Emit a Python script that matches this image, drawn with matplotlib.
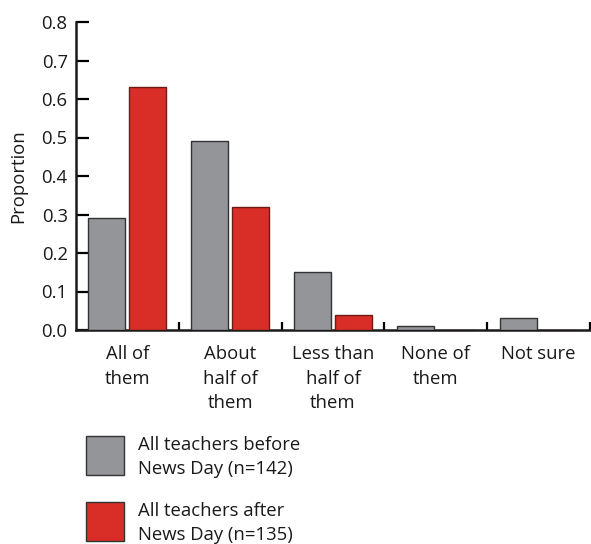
import matplotlib
matplotlib.use("Agg")
import matplotlib.pyplot as plt
from matplotlib.patches import Rectangle
import numpy as np

plt.rcParams['font.family'] = ['Open Sans', 'DejaVu Sans']

categories = ["All of\nthem", "About\nhalf of\nthem", "Less than\nhalf of\nthem", "None of\nthem", "Not sure"]
before = [0.29, 0.49, 0.15, 0.01, 0.03]
after = [0.63, 0.32, 0.04, 0.0, 0.0]
series_labels = ["All teachers before\nNews Day (n=142)", "All teachers after\nNews Day (n=135)"]
colors = ["#939598", "#d92e27"]
yticks = [0.0, 0.1, 0.2, 0.3, 0.4, 0.5, 0.6, 0.7, 0.8]

FS = 13.3
W, H = 591, 544
fig = plt.figure(figsize=(W / 100, H / 100), dpi=100)
ax = fig.add_axes([76 / W, 1 - 330 / H, (590 - 76) / W, (330 - 22) / H])

x = np.arange(len(categories))
bw = 0.36
ax.bar(x - 0.2, before, bw, color=colors[0], edgecolor="#333333", linewidth=1.0, zorder=3)
ax.bar(x + 0.195, after, bw, color=colors[1], edgecolor="#6a1c18", linewidth=1.0, zorder=3)

ax.set_xlim(-0.5, len(categories) - 0.5)
ax.set_ylim(0, 0.8)
ax.set_yticks(yticks)
ax.set_yticklabels([f"{v:.1f}" for v in yticks], fontsize=FS, color="#1a1a1a")
ax.tick_params(axis='y', direction='in', length=9, width=1.6, pad=6)
ax.set_xticks(x)
ax.set_xticklabels(categories, fontsize=FS, color="#1a1a1a", linespacing=1.45)
ax.tick_params(axis='x', which='major', length=0, pad=11)
ax.set_xticks(list(x + 0.5), minor=True)
ax.tick_params(axis='x', which='minor', direction='in', length=6, width=1.6)

for s in ["top", "right"]:
    ax.spines[s].set_visible(False)
for s in ["left", "bottom"]:
    ax.spines[s].set_linewidth(1.8)
    ax.spines[s].set_color("#1a1a1a")
ax.set_ylabel("Proportion", fontsize=FS, color="#1a1a1a", labelpad=10)

# legend
ys = [436, 502]
for i in range(2):
    fig.add_artist(Rectangle((86 / W, 1 - (ys[i] + 39) / H), 38 / W, 39 / H,
                             transform=fig.transFigure, facecolor=colors[i],
                             edgecolor="#333333", linewidth=1.0))
    fig.text(138 / W, 1 - (ys[i] + 21) / H, series_labels[i], fontsize=FS,
             color="#1a1a1a", va='center', ha='left', linespacing=1.4)

fig.savefig("out.png", dpi=100)
